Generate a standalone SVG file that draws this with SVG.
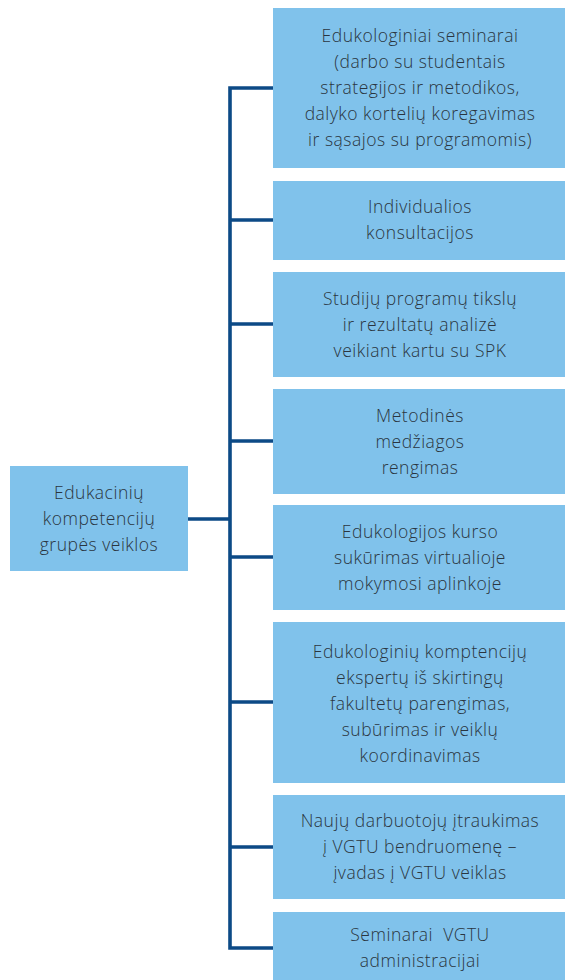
<svg xmlns="http://www.w3.org/2000/svg" width="565" height="980" viewBox="0 0 565 980">
<style>
.box{fill:#80c2eb}
.t{font-family:"Open Sans","Noto Sans",sans-serif;font-weight:300;font-size:17.5px;letter-spacing:0.5px;fill:#2a3540;text-anchor:middle}
.c{fill:none;stroke:#0c4a86;stroke-width:3.6;stroke-linejoin:miter;stroke-linecap:butt}
</style>
<rect width="565" height="980" fill="#ffffff"/>
<g id="connectors">
<path class="c" d="M188,519 H230 M273,88 H230 V948 H273 M230,220 H273 M230,324 H273 M230,441 H273 M230,557 H273 M230,702 H273 M230,847 H273"/>
</g>
<g id="root">
<rect class="box" x="10" y="466" width="178" height="105"/>
<text class="t" x="99" y="498.8">Edukacinių</text>
<text class="t" x="99" y="524.8">kompetencijų</text>
<text class="t" x="99" y="550.8">grupės veiklos</text>
</g>
<g id="n1">
<rect class="box" x="273" y="8" width="292" height="160"/>
<text class="t" x="420" y="42">Edukologiniai seminarai</text>
<text class="t" x="420" y="68">(darbo su studentais</text>
<text class="t" x="420" y="94">strategijos ir metodikos,</text>
<text class="t" x="420" y="120">dalyko kortelių koregavimas</text>
<text class="t" x="420" y="146">ir sąsajos su programomis)</text>
</g>
<g id="n2">
<rect class="box" x="273" y="181" width="292" height="79"/>
<text class="t" x="420" y="213">Individualios</text>
<text class="t" x="420" y="239">konsultacijos</text>
</g>
<g id="n3">
<rect class="box" x="273" y="272" width="292" height="105"/>
<text class="t" x="420" y="305">Studijų programų tikslų</text>
<text class="t" x="420" y="331">ir rezultatų analizė</text>
<text class="t" x="420" y="357">veikiant kartu su SPK</text>
</g>
<g id="n4">
<rect class="box" x="273" y="389" width="292" height="105"/>
<text class="t" x="420" y="421.5">Metodinės</text>
<text class="t" x="420" y="447.5">medžiagos</text>
<text class="t" x="420" y="473.5">rengimas</text>
</g>
<g id="n5">
<rect class="box" x="273" y="505" width="292" height="105"/>
<text class="t" x="420" y="537.5">Edukologijos kurso</text>
<text class="t" x="420" y="563.5">sukūrimas virtualioje</text>
<text class="t" x="420" y="589.5">mokymosi aplinkoje</text>
</g>
<g id="n6">
<rect class="box" x="273" y="622" width="292" height="161"/>
<text class="t" x="420" y="657.5">Edukologinių komptencijų</text>
<text class="t" x="420" y="683.5">ekspertų iš skirtingų</text>
<text class="t" x="420" y="709.5">fakultetų parengimas,</text>
<text class="t" x="420" y="735.5">subūrimas ir veiklų</text>
<text class="t" x="420" y="761.5">koordinavimas</text>
</g>
<g id="n7">
<rect class="box" x="273" y="795" width="292" height="104"/>
<text class="t" x="420" y="827">Naujų darbuotojų įtraukimas</text>
<text class="t" x="420" y="853">į VGTU bendruomenę –</text>
<text class="t" x="420" y="879">įvadas į VGTU veiklas</text>
</g>
<g id="n8">
<rect class="box" x="273" y="912" width="292" height="68"/>
<text class="t" x="420" y="941" xml:space="preserve">Seminarai  VGTU</text>
<text class="t" x="420" y="967">administracijai</text>
</g>
</svg>
